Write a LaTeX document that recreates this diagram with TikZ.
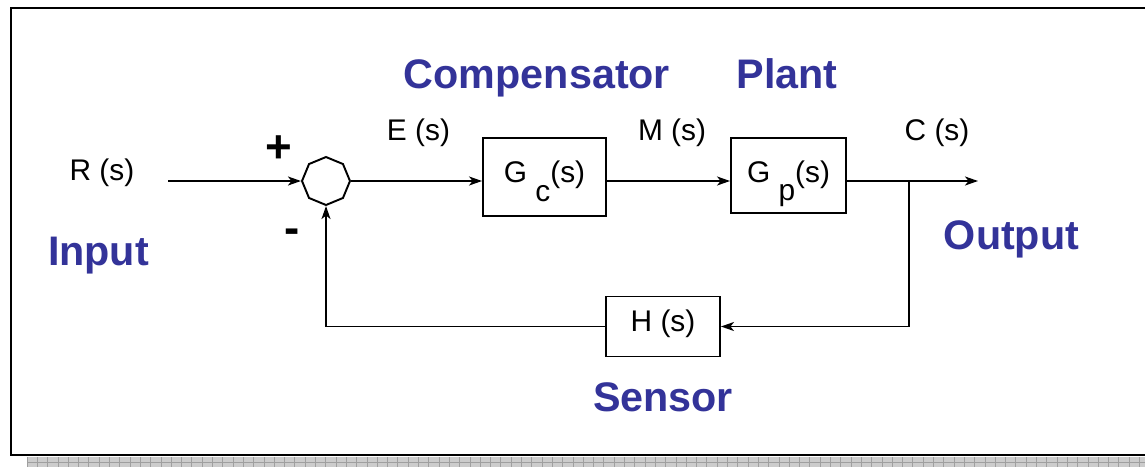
\documentclass[tikz,border=0pt]{standalone}
\usepackage{fontspec}
\setmainfont{Liberation Sans}
\usepackage{xcolor}
\usetikzlibrary{arrows.meta,positioning,calc,shapes.geometric}
\definecolor{labelblue}{RGB}{51,51,153}

\begin{document}
\begin{tikzpicture}[
    x=0.02cm, y=-0.02cm,
    blk/.style={draw, line width=1.1pt, inner sep=0pt, font=\fontsize{17}{20}\selectfont},
    sig/.style={font=\fontsize{17}{20}\selectfont, inner sep=0pt, anchor=base},
    tag/.style={font=\fontsize{23.5}{28}\selectfont\bfseries, text=labelblue, inner sep=0pt, anchor=base},
    sgn/.style={font=\fontsize{26}{30}\selectfont\bfseries, inner sep=0pt},
    sum/.style={draw, regular polygon, regular polygon sides=8, minimum size=0.96cm,
                shape border rotate=22.5, line width=1.1pt, inner sep=0pt},
    arr/.style={-{Stealth[length=2.6mm,width=1.8mm,inset=0.7mm]}, line width=1pt}
]
    \useasboundingbox (0,0) rectangle (1145,467);
    % frame and shadow strip
    \draw[line width=1pt] (11,8) rectangle (1150,455);
    \fill[gray!40] (27,457) rectangle (1150,467);
    \foreach \x in {27,37.3,...,1150}
        \draw[gray!75, line width=0.4pt] (\x,457) -- (\x,467);
    \draw[gray!75, line width=0.4pt] (27,462.5) -- (1150,462.5);

    % blocks
    \node[sum] (sum) at (326,181) {};
    \node[blk, minimum width=2.46cm, minimum height=1.56cm, text height=6.8pt, text depth=0pt]
        (gc) at (544.5,177) {G \raisebox{-10.5pt}[0pt][0pt]{c}(s)};
    \node[blk, minimum width=2.3cm, minimum height=1.5cm, text height=8.5pt, text depth=0pt]
        (gp) at (788.5,175.5) {G \raisebox{-10pt}[0pt][0pt]{p}(s)};
    \node[blk, minimum width=2.28cm, minimum height=1.2cm, text height=5.7pt, text depth=0pt]
        (h) at (663,326.5) {H (s)};

    % signal labels
    \node[sig] (rlab) at (102,180.7) {R (s)};
    \node[sig] (elab) at (418.5,140.7) {E (s)};
    \node[sig] (mlab) at (672,140.7) {M (s)};
    \node[sig] (clab) at (937,140.7) {C (s)};
    \node[sgn] (plus) at (279,149) {+};
    \node[sgn] (minus) at (292,236) {-};

    % names
    \node[tag] (comp) at (537,88) {Compensator};
    \node[tag] (plant) at (787,88) {Plant};
    \node[tag] (input) at (98.5,265) {Input};
    \node[tag] (output) at (1011.5,249) {Output};
    \node[tag] (sensor) at (663,411.7) {Sensor};

    \coordinate (in) at (168,181);
    \coordinate (out) at (978,181);
    \coordinate (tap) at (909,181);

    \draw[arr] (in) -- (sum.west);
    \draw[arr] (sum.east) -- (sum.east -| gc.west);
    \draw[arr] (gc.east |- sum.east) -- (gp.west |- sum.east);
    \draw[arr] (gp.east |- sum.east) -- (out);
    \draw[arr] (tap) |- (h.east);
    \draw[arr] (h.west) -| (sum.south);
\end{tikzpicture}
\end{document}
